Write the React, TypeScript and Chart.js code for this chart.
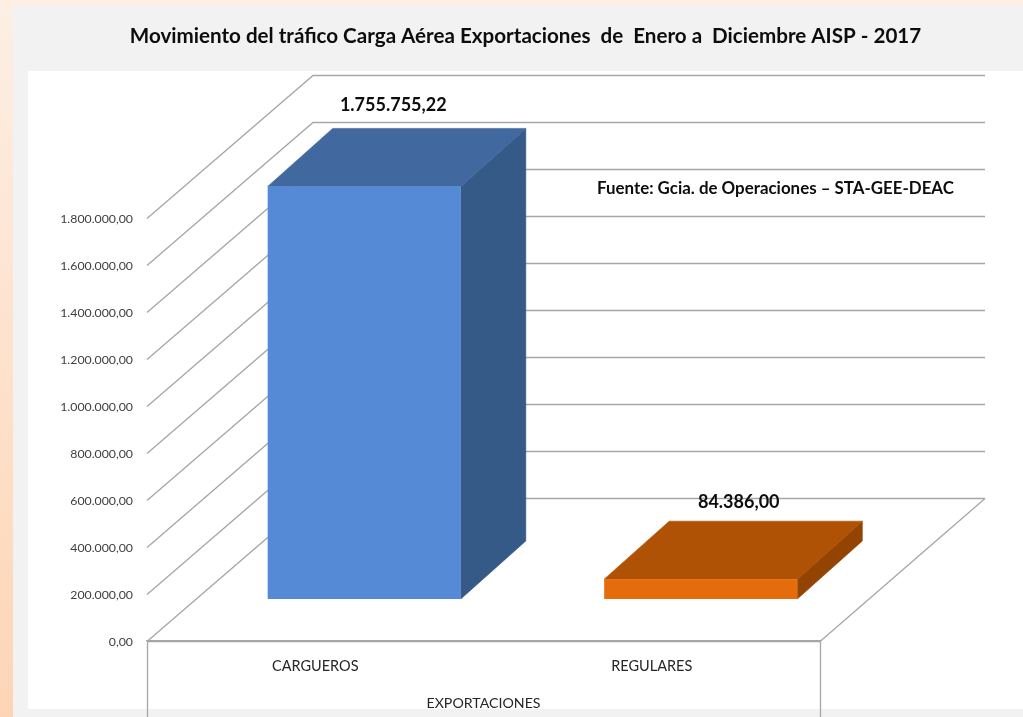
import React, { useEffect, useRef } from "react";
import { Chart, registerables } from "chart.js";

Chart.register(...registerables);

const categories = ["CARGUEROS", "REGULARES"];
const exportaciones = [1755755.22, 84386.0];
const yTicks = [0, 200000, 400000, 600000, 800000, 1000000, 1200000, 1400000, 1600000, 1800000];
const titleText = "Movimiento del tráfico Carga Aérea Exportaciones  de  Enero a  Diciembre AISP - 2017";
const sourceText = "Fuente: Gcia. de Operaciones – STA-GEE-DEAC";
const axisGroup = "EXPORTACIONES";

const FONT = "Lato, Carlito, sans-serif";
const GRID = "#a6a6a6";
const frontColors = ["#558bd6", "#e46c0a"];
const topColors = ["#41689f", "#af5205"];
const sideColors = ["#355a88", "#934403"];
const labelNudge = [78, 87];

const fmt = new Intl.NumberFormat("de-DE", { minimumFractionDigits: 2, maximumFractionDigits: 2 });

// Depth of the floor and of the bars, in pixels
const WALL = { dx: 166, dy: -143, rightBack: 985 };
const BAR_SHIFT = { dx: 49, dy: -42 };
const BAR_DEPTH = { dx: 65, dy: -58 };

function poly(ctx: CanvasRenderingContext2D, pts: number[][], fill: string) {
  ctx.beginPath();
  pts.forEach(([x, y], i) => (i ? ctx.lineTo(x, y) : ctx.moveTo(x, y)));
  ctx.closePath();
  ctx.fillStyle = fill;
  ctx.strokeStyle = fill;
  ctx.lineWidth = 0.6;
  ctx.fill();
  ctx.stroke();
}

const threeD = {
  id: "threeD",
  beforeDatasetsDraw(chart: any) {
    const { ctx, scales } = chart;
    const y = scales.y;
    const x = scales.x;
    ctx.save();
    ctx.strokeStyle = GRID;
    ctx.lineWidth = 1.3;
    yTicks.forEach((v) => {
      const py = Math.round(y.getPixelForValue(v)) + 0.5;
      ctx.beginPath();
      ctx.moveTo(x.left, py);
      ctx.lineTo(x.left + WALL.dx, py + WALL.dy);
      ctx.lineTo(WALL.rightBack, py + WALL.dy);
      ctx.stroke();
    });
    // floor edge and the boxes of the multi-level category axis
    const floor = Math.round(y.getPixelForValue(0)) + 0.5;
    ctx.beginPath();
    ctx.moveTo(WALL.rightBack, floor + WALL.dy);
    ctx.lineTo(x.right, floor);
    ctx.moveTo(x.left, floor);
    ctx.lineTo(x.right, floor);
    ctx.moveTo(x.left + 0.5, floor);
    ctx.lineTo(x.left + 0.5, x.bottom);
    ctx.moveTo(x.right + 0.5, floor);
    ctx.lineTo(x.right + 0.5, x.bottom);
    ctx.stroke();
    // side and top faces of the bars
    const meta = chart.getDatasetMeta(0);
    meta.data.forEach((el: any, i: number) => {
      const l = el.x - el.width / 2 + BAR_SHIFT.dx;
      const r = el.x + el.width / 2 + BAR_SHIFT.dx;
      const t = el.y + BAR_SHIFT.dy;
      const b = el.base + BAR_SHIFT.dy;
      poly(ctx, [[r, t], [r + BAR_DEPTH.dx, t + BAR_DEPTH.dy], [r + BAR_DEPTH.dx, b + BAR_DEPTH.dy], [r, b]], sideColors[i]);
      poly(ctx, [[l, t], [l + BAR_DEPTH.dx, t + BAR_DEPTH.dy], [r + BAR_DEPTH.dx, t + BAR_DEPTH.dy], [r, t]], topColors[i]);
    });
    ctx.restore();
  },
  beforeDatasetDraw(chart: any) {
    chart.ctx.save();
    chart.ctx.translate(BAR_SHIFT.dx, BAR_SHIFT.dy);
  },
  afterDatasetDraw(chart: any) {
    chart.ctx.restore();
  },
  afterDatasetsDraw(chart: any) {
    const { ctx } = chart;
    const meta = chart.getDatasetMeta(0);
    ctx.save();
    ctx.fillStyle = "#0d0d0d";
    ctx.textAlign = "center";
    ctx.textBaseline = "middle";
    ctx.font = `bold 18px ${FONT}`;
    meta.data.forEach((el: any, i: number) => {
      ctx.fillText(
        fmt.format(exportaciones[i]),
        el.x + labelNudge[i],
        el.y + BAR_SHIFT.dy + BAR_DEPTH.dy - (i === 0 ? 23 : 19)
      );
    });
    ctx.font = `bold 16.9px ${FONT}`;
    ctx.textAlign = "left";
    ctx.fillText(sourceText, 597, 189);
    ctx.restore();
  },
};

export default function App() {
  const ref = useRef<HTMLCanvasElement>(null);
  useEffect(() => {
    const chart = new Chart(ref.current as HTMLCanvasElement, {
      type: "bar",
      data: {
        labels: categories,
        datasets: [
          {
            label: axisGroup,
            data: exportaciones,
            backgroundColor: frontColors,
            borderWidth: 0,
            categoryPercentage: 1,
            barPercentage: 0.574,
            clip: false,
          } as any,
        ],
      },
      options: {
        responsive: false,
        animation: false,
        layout: { padding: { left: 28, right: 0, top: 0, bottom: 0 } },
        plugins: {
          legend: { display: false },
          tooltip: { enabled: false },
          title: {
            display: true,
            text: titleText,
            color: "#0d0d0d",
            font: { family: FONT, size: 20.6, weight: "bold", lineHeight: 1.2 },
            padding: { top: 23.5, bottom: 169.8 },
          },
        },
        scales: {
          x: {
            grid: { display: false, drawTicks: false },
            border: { display: true, color: GRID, width: 1.3 },
            ticks: { color: "#262626", font: { family: FONT, size: 14.5 }, padding: 17, maxRotation: 0 },
            title: {
              display: true,
              text: axisGroup,
              color: "#262626",
              font: { family: FONT, size: 14.2, lineHeight: 1.2 },
              padding: { top: 0, bottom: 5.5 },
            },
            afterFit(s: any) {
              s.height = 76;
            },
          },
          y: {
            min: 0,
            max: 1800000,
            grid: { display: false, drawTicks: false },
            border: { display: false },
            ticks: {
              stepSize: 200000,
              color: "#404040",
              font: { family: FONT, size: 12.3 },
              padding: 14,
              labelOffset: 1,
              callback: (v: any) => fmt.format(Number(v)),
            },
            afterFit(s: any) {
              s.width = 119;
            },
          },
          y1: {
            position: "right",
            min: 0,
            max: 1800000,
            grid: { display: false, drawTicks: false },
            border: { display: false },
            ticks: { display: false },
            afterFit(s: any) {
              s.width = 203;
            },
          },
        },
      } as any,
      plugins: [threeD as any],
    });
    return () => chart.destroy();
  }, []);

  const box = (style: React.CSSProperties) => <div style={{ position: "absolute", ...style }} />;
  return (
    <div style={{ position: "fixed", left: 0, top: 0, width: 1023, height: 717, overflow: "hidden" }}>
      {box({ left: 0, top: 0, width: 1023, height: 717, background: "linear-gradient(180deg,#fdefe4 0%,#fdd5b5 100%)" })}
      {box({ left: 13, top: 6, width: 1010, height: 711, background: "#f2f2f2" })}
      {box({ left: 28, top: 71, width: 995, height: 638, background: "#ffffff" })}
      <canvas ref={ref} width={1023} height={717} style={{ position: "absolute", left: 0, top: 0, display: "block" }} />
    </div>
  );
}
